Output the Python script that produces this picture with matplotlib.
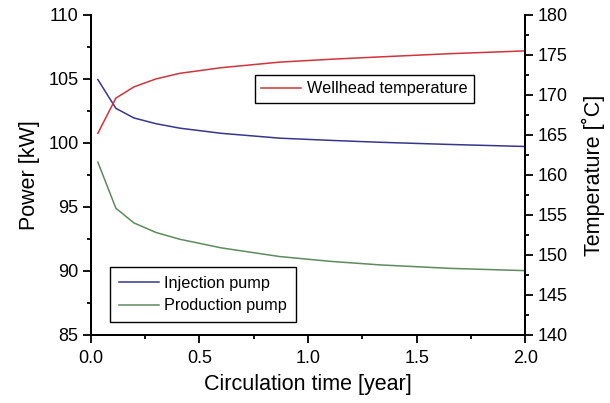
import matplotlib
matplotlib.use("Agg")
import matplotlib.pyplot as plt
from matplotlib.ticker import MultipleLocator, FormatStrFormatter

plt.rcParams['font.family'] = ['Liberation Sans', 'DejaVu Sans']

time = [0.032, 0.115, 0.198, 0.3, 0.41, 0.6, 0.87, 1.1, 1.33, 1.65, 2.0]
injection = [104.95, 102.7, 101.95, 101.5, 101.15, 100.75, 100.37, 100.2, 100.05, 99.88, 99.72]
production = [98.5, 94.9, 93.75, 93.0, 92.47, 91.8, 91.12, 90.75, 90.47, 90.2, 90.02]
wellhead = [165.2, 169.6, 171.0, 172.0, 172.7, 173.4, 174.1, 174.45, 174.75, 175.15, 175.5]

c_red = '#d0343c'
c_blue = '#36368e'
c_green = '#5e8a5e'

fig = plt.figure(figsize=(6.10, 4.03), dpi=100)
ax = fig.add_axes([0.149, 0.169, 0.712, 0.794])
ax2 = ax.twinx()

l1, = ax.plot(time, injection, color=c_blue, lw=1.1, label='Injection pump')
l2, = ax.plot(time, production, color=c_green, lw=1.1, label='Production pump')
l3, = ax2.plot(time, wellhead, color=c_red, lw=1.1, label='Wellhead temperature')

ax.set_xlim(0, 2.0)
ax.set_ylim(85, 110)
ax2.set_ylim(140, 180)

ax.xaxis.set_major_locator(MultipleLocator(0.5))
ax.xaxis.set_minor_locator(MultipleLocator(0.25))
ax.yaxis.set_major_locator(MultipleLocator(5))
ax.yaxis.set_minor_locator(MultipleLocator(2.5))
ax2.yaxis.set_major_locator(MultipleLocator(5))
ax2.yaxis.set_minor_locator(MultipleLocator(2.5))
ax.xaxis.set_major_formatter(FormatStrFormatter('%.1f'))

for a in (ax, ax2):
    a.spines['top'].set_visible(False)
    for s in a.spines.values():
        s.set_linewidth(1.4)
    a.tick_params(which='major', length=6, width=1.3, labelsize=13, direction='out', pad=3)
    a.tick_params(which='minor', length=3, width=1.3, direction='out')
ax.tick_params(axis='x', which='major', pad=5)

ax.set_xlabel('Circulation time [year]', fontsize=15.5, labelpad=5)
ax.set_ylabel('Power [kW]', fontsize=15.5, labelpad=6)
ax2.set_ylabel('Temperature [˚C]', fontsize=15.5, labelpad=10)

leg1 = fig.legend(handles=[l3], loc='upper left', bbox_to_anchor=(0.418, 0.814),
                  borderaxespad=0, fancybox=False, edgecolor='black', fontsize=11.7,
                  handlelength=2.45, handletextpad=0.35, framealpha=1)
leg1.get_frame().set_linewidth(1.0)
leg2 = fig.legend(handles=[l1, l2], loc='upper left', bbox_to_anchor=(0.180, 0.337),
                  borderaxespad=0, fancybox=False, edgecolor='black', fontsize=11.7,
                  handlelength=2.45, handletextpad=0.35, framealpha=1,
                  labelspacing=0.45, borderpad=0.55)
leg2.get_frame().set_linewidth(1.0)

fig.savefig('out.png', dpi=100)
